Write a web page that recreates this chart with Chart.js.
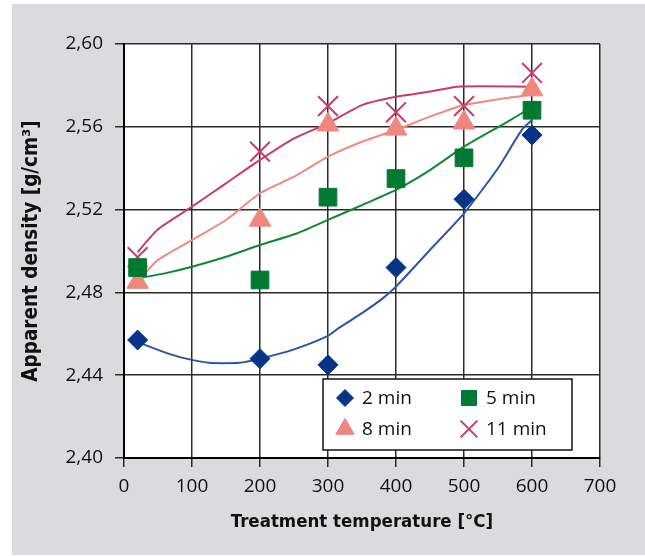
<!DOCTYPE html>
<html>
<head>
<meta charset="utf-8">
<script src="https://cdn.jsdelivr.net/npm/chart.js@4.4.1/dist/chart.umd.min.js"></script>
<style>
  html, body { margin: 0; background: #fff; }
  canvas { display: block; }
</style>
</head>
<body>
<canvas id="densityChart" width="645" height="556"></canvas>
<script>
// --- Data ---
const temps = [20, 200, 300, 400, 500, 600];
const dens2 = [2.457, 2.448, 2.445, 2.492, 2.525, 2.556];
const dens5 = [2.492, 2.486, 2.526, 2.535, 2.545, 2.568];
const dens8 = [2.485, 2.515, 2.561, 2.559, 2.562, 2.578];
const dens11 = [2.497, 2.548, 2.570, 2.567, 2.570, 2.586];

// trend curves
const fit2X = [20, 60, 85, 125, 170, 200, 250, 300, 315, 350, 380, 400, 450, 500, 550, 585, 600];
const fit2Y = [2.456, 2.451, 2.4485, 2.446, 2.446, 2.448, 2.4525, 2.459, 2.4626, 2.470, 2.477, 2.4828, 2.5005, 2.5182, 2.540, 2.5585, 2.5633];
const fit5X = [20, 60, 100, 150, 200, 255, 300, 350, 400, 450, 500, 560, 595];
const fit5Y = [2.4868, 2.4892, 2.4924, 2.4972, 2.5029, 2.5086, 2.515, 2.5222, 2.5295, 2.5391, 2.5504, 2.5617, 2.5685];
const fit8X = [22, 50, 100, 150, 200, 250, 300, 350, 400, 450, 500, 560, 597];
const fit8Y = [2.486, 2.4957, 2.5053, 2.515, 2.5279, 2.5359, 2.5456, 2.5528, 2.5585, 2.5649, 2.5705, 2.5738, 2.5754];
const fit11X = [20, 50, 100, 150, 200, 250, 300, 350, 400, 450, 490, 600];
const fit11Y = [2.4995, 2.5105, 2.5214, 2.5327, 2.544, 2.5544, 2.5617, 2.5705, 2.5745, 2.577, 2.5794, 2.5794];

const xTicks = [0, 100, 200, 300, 400, 500, 600, 700];
const yTicks = [2.40, 2.44, 2.48, 2.52, 2.56, 2.60];

const BODY_FONT = "'Open Sans', 'Noto Sans', sans-serif";
const TITLE_FONT = "'Liberation Sans Narrow', 'DejaVu Sans Condensed', sans-serif";

function pts(xs, ys) {
    return xs.map((x, i) => ({ x: x, y: ys[i] }));
}

function markerSet(label, values, color, style, radius, width) {
    return {
        type: 'scatter',
        label: label,
        data: pts(temps, values),
        pointStyle: style,
        pointRadius: radius,
        pointBackgroundColor: color,
        pointBorderColor: color,
        pointBorderWidth: width,
        backgroundColor: color,
        borderColor: color,
        borderWidth: width,
        showInBox: true,
        order: 0
    };
}

function curveSet(xs, ys, color) {
    return {
        type: 'line',
        data: pts(xs, ys),
        borderColor: color,
        borderWidth: 2,
        pointRadius: 0,
        tension: 0.2,
        fill: false,
        order: 1
    };
}

// grey panel behind the chart, white plot area
const backdrop = {
    id: 'backdrop',
    beforeDraw(chart) {
        const { ctx, chartArea: a } = chart;
        ctx.save();
        ctx.fillStyle = '#dadbdd';
        ctx.fillRect(12, 4, 633, 551);
        ctx.fillStyle = '#ffffff';
        ctx.fillRect(a.left, a.top, a.right - a.left, a.bottom - a.top);
        ctx.restore();
    }
};

// boxed two-column legend inside the plot
const boxLegend = {
    id: 'boxLegend',
    afterDatasetsDraw(chart) {
        const ctx = chart.ctx;
        const bx = 323, by = 379, bw = 249, bh = 71;
        ctx.save();
        ctx.fillStyle = '#ffffff';
        ctx.fillRect(bx, by, bw, bh);
        ctx.strokeStyle = '#111';
        ctx.lineWidth = 1.5;
        ctx.strokeRect(bx, by, bw, bh);

        const items = chart.data.datasets.filter(d => d.showInBox);
        items.forEach((ds, i) => {
            const mx = bx + 22 + (i % 2) * 124;
            const my = by + 19 + Math.floor(i / 2) * 31;
            ctx.fillStyle = ds.backgroundColor;
            ctx.strokeStyle = ds.borderColor;
            ctx.lineWidth = ds.borderWidth;
            Chart.helpers.drawPoint(ctx, {
                pointStyle: ds.pointStyle,
                radius: ds.pointRadius * 0.85,
                rotation: 0,
                borderWidth: ds.borderWidth
            }, mx, my);
            ctx.fillStyle = '#111';
            ctx.font = '19px ' + BODY_FONT;
            ctx.textBaseline = 'middle';
            ctx.textAlign = 'left';
            ctx.fillText(ds.label, mx + 17, my + 1);
        });
        ctx.restore();
    }
};

const ctx = document.getElementById('densityChart').getContext('2d');
new Chart(ctx, {
    data: {
        datasets: [
            markerSet('2 min', dens2, '#063588', 'rectRot', 10, 1),
            markerSet('5 min', dens5, '#007a33', 'rect', 12.5, 1),
            markerSet('8 min', dens8, '#f0877f', 'triangle', 12.5, 1),
            markerSet('11 min', dens11, '#cc3a6e', 'crossRot', 14, 2),
            curveSet(fit2X, fit2Y, '#2d55a3'),
            curveSet(fit5X, fit5Y, '#0b8a33'),
            curveSet(fit8X, fit8Y, '#f08a7e'),
            curveSet(fit11X, fit11Y, '#c93a72')
        ]
    },
    options: {
        responsive: false,
        animation: false,
        layout: { padding: { left: 12, top: 44, right: 45, bottom: 1 } },
        plugins: {
            legend: { display: false },
            tooltip: { enabled: false }
        },
        scales: {
            x: {
                type: 'linear',
                min: 0,
                max: 700,
                afterBuildTicks: s => { s.ticks = xTicks.map(v => ({ value: v })); },
                afterFit: s => { s.height = 97; },
                ticks: { color: '#111', font: { family: BODY_FONT, size: 19 }, padding: 8, maxRotation: 0 },
                grid: { color: '#2a2a2a', lineWidth: 1.5, tickLength: 9 },
                border: { color: '#000', width: 2 },
                title: {
                    display: true,
                    text: 'Treatment temperature [°C]',
                    color: '#111',
                    font: { family: TITLE_FONT, size: 18.5, weight: 'bold' },
                    padding: { top: 0, bottom: 22 }
                }
            },
            y: {
                type: 'linear',
                min: 2.40,
                max: 2.60,
                afterBuildTicks: s => { s.ticks = yTicks.map(v => ({ value: v })); },
                afterFit: s => { s.width = 112; },
                ticks: {
                    color: '#111',
                    font: { family: BODY_FONT, size: 19 },
                    padding: 12,
                    callback: v => v.toFixed(2).replace('.', ',')
                },
                grid: { color: '#2a2a2a', lineWidth: 1.5, tickLength: 9 },
                border: { color: '#000', width: 2 },
                title: {
                    display: true,
                    text: 'Apparent density [g/cm³]',
                    color: '#111',
                    font: { family: TITLE_FONT, size: 20.5, weight: 'bold' },
                    padding: { top: 7, bottom: 0 }
                }
            }
        }
    },
    plugins: [backdrop, boxLegend]
});
</script>
</body>
</html>
